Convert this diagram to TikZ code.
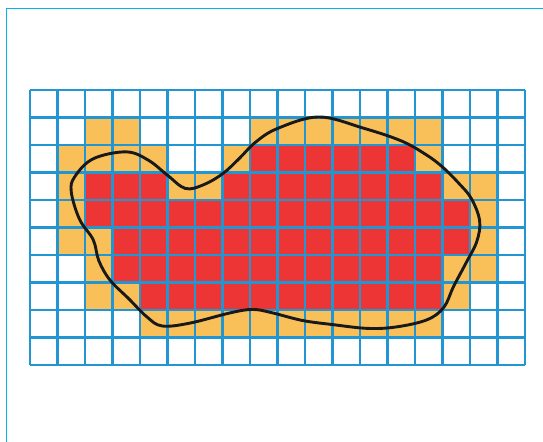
\documentclass[tikz,border=0pt]{standalone}
\usepackage{tikz}
\definecolor{framecyan}{RGB}{0,180,240}
\definecolor{gridblue}{RGB}{34,150,210}
\definecolor{cellred}{RGB}{238,53,53}
\definecolor{cellorange}{RGB}{249,192,90}
\tikzset{
  frameline/.style={framecyan,line width=1.8pt},
  gridline/.style={gridblue,line width=2.3pt},
  partcell/.style={fill=cellorange},
  fullcell/.style={fill=cellred},
  outline/.style={black!90,line width=3pt,line join=round},
}

\begin{document}
\begin{tikzpicture}[x=1cm,y=1cm]
  \path[use as bounding box] (-1.091,-2.8) rectangle (18.655,13.273);
  \draw[frameline] (-0.855,-2.8) -- (-0.855,12.964) -- (18.655,12.964);

  % cells partly inside (row from top / first column / last column)
  \foreach \r/\a/\b in {1/2/3, 1/8/14, 2/1/4, 2/7/7, 2/14/14, 3/1/1, 3/5/6, 3/15/16,
                        4/1/1, 4/16/16, 5/1/2, 5/16/16, 6/2/2, 6/15/16, 7/2/3, 7/15/15, 8/4/14}
    \fill[partcell] (\a,9-\r) rectangle (\b+1,10-\r);
  % cells fully inside
  \foreach \r/\a/\b in {2/8/13, 3/2/4, 3/7/14, 4/2/15, 5/3/15, 6/3/14, 7/4/14}
    \fill[fullcell] (\a,9-\r) rectangle (\b+1,10-\r);

  \draw[gridline] (0,0) grid (18,10);

  \draw[outline] plot[smooth cycle,tension=0.6] coordinates {
    (1.63,6.85) (2.3,7.5) (3.5,7.75) (4.3,7.45) (5.0,6.9) (5.65,6.42) (6.3,6.55)
    (7.0,6.95) (7.6,7.5) (8.2,8.1) (9.0,8.6) (10.5,9.02) (12.1,8.62) (13.5,8.15)
    (14.4,7.65) (15.0,7.2) (15.6,6.6) (16.05,6.05) (16.35,5.25) (16.25,4.5)
    (15.85,3.7) (15.4,2.85) (15.05,2.1) (14.45,1.65) (13.36,1.39) (12.3,1.33)
    (11.0,1.47) (9.9,1.62) (8.8,1.9) (8.1,2.02) (7.3,1.9) (5.8,1.52) (4.8,1.42)
    (4.25,1.75) (3.6,2.4) (2.9,3.1) (2.5,3.8) (2.3,4.55) (1.8,5.3) (1.5,6.3)};
\end{tikzpicture}
\end{document}
